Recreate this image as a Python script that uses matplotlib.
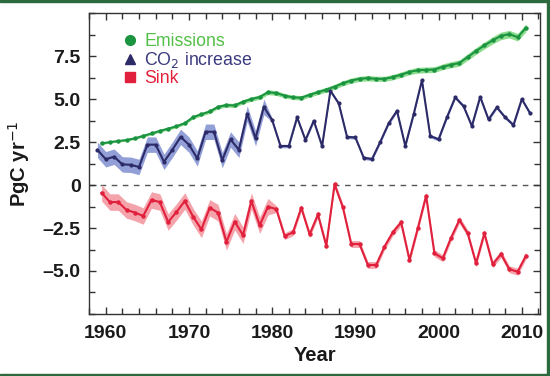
import numpy as np
import matplotlib
matplotlib.use("Agg")
import matplotlib.pyplot as plt
from matplotlib.lines import Line2D
from matplotlib.patches import Rectangle
from matplotlib.ticker import MultipleLocator, FixedLocator, FixedFormatter

plt.rcParams['font.family'] = ['Liberation Sans', 'DejaVu Sans']

# ---------------- data ----------------
years_co2 = list(range(1959, 2012))
years_es = list(range(1959, 2011))

emissions = [2.42, 2.50, 2.56, 2.62, 2.72, 2.86, 3.00, 3.15, 3.28, 3.42,
             3.60, 3.95, 4.12, 4.28, 4.55, 4.65, 4.63, 4.85, 5.00, 5.12,
             5.40, 5.35, 5.20, 5.10, 5.08, 5.25, 5.40, 5.55, 5.72, 5.92,
             6.08, 6.18, 6.22, 6.18, 6.18, 6.28, 6.42, 6.58, 6.68, 6.70,
             6.72, 6.88, 7.00, 7.10, 7.45, 7.80, 8.12, 8.42, 8.68, 8.78,
             8.60, 9.15]
emissions_unc = [0.06, 0.06, 0.06, 0.07, 0.07, 0.07, 0.08, 0.08, 0.08, 0.09,
                 0.09, 0.10, 0.10, 0.11, 0.11, 0.12, 0.12, 0.12, 0.13, 0.13,
                 0.14, 0.14, 0.13, 0.13, 0.13, 0.13, 0.14, 0.14, 0.14, 0.15,
                 0.15, 0.15, 0.16, 0.15, 0.15, 0.16, 0.16, 0.16, 0.17, 0.17,
                 0.17, 0.17, 0.18, 0.18, 0.19, 0.20, 0.20, 0.21, 0.22, 0.22,
                 0.22, 0.23]

co2_increase = [2.05, 1.50, 1.65, 1.20, 1.18, 1.05, 2.35, 2.35, 1.35, 2.05,
                2.80, 2.35, 1.55, 3.10, 3.10, 1.45, 2.65, 2.05, 4.15, 2.72,
                4.55, 3.78, 2.27, 2.27, 3.94, 2.62, 3.74, 2.27, 5.48, 4.75,
                2.80, 2.77, 1.59, 1.51, 2.52, 3.59, 4.32, 2.27, 4.11, 6.10,
                2.85, 2.66, 3.94, 5.10, 4.59, 3.43, 5.13, 3.82, 4.52, 3.94,
                3.49, 5.00, 4.17]
co2_unc = [0.45] * 21 + [0.10] * 32

sink = [-0.45, -0.99, -0.99, -1.45, -1.60, -1.80, -0.87, -0.99, -2.15, -1.57,
        -0.93, -1.84, -2.58, -1.32, -1.61, -3.31, -2.13, -2.92, -0.93, -2.34,
        -1.26, -1.40, -2.97, -2.75, -1.32, -2.87, -1.71, -3.53, 0.04, -1.30,
        -3.43, -3.43, -4.65, -4.65, -3.58, -2.75, -2.17, -4.36, -2.52, -0.62,
        -3.97, -4.26, -3.06, -2.03, -2.81, -4.55, -2.81, -4.61, -4.01, -4.90,
        -5.04, -4.11]
sink_unc = [0.48] * 21 + [0.20] * 31

ytick_vals = [-5.0, -2.5, 0.0, 2.5, 5.0, 7.5]
ytick_labels = ['\u20135.0', '\u20132.5', '0', '2.5', '5.0', '7.5']
xtick_vals = [1960, 1970, 1980, 1990, 2000, 2010]
labels = ['Emissions', 'CO$_2$ increase', 'Sink']

# ---------------- style ----------------
c_em_line, c_em_band, c_em_text = '#1a9440', '#8fdc8f', '#52c046'
c_co_line, c_co_band, c_co_text = '#2c2b68', '#93a0d8', '#3a3a7e'
c_si_line, c_si_band, c_si_text = '#e0203c', '#f5a3ab', '#e4203c'
txt = '#1a1a1a'

fig = plt.figure(figsize=(5.5, 3.76), dpi=100)
ax = fig.add_axes([0.162, 0.165, 0.820, 0.800])

x_es = np.array(years_es) + 0.5
x_co = np.array(years_co2)

em = np.array(emissions); emu = np.array(emissions_unc)
co = np.array(co2_increase); cou = np.array(co2_unc)
si = np.array(sink); siu = np.array(sink_unc)

ax.axhline(0, color='#555555', lw=1.0, ls=(0, (4, 4)), zorder=1)

ax.fill_between(x_es, em - emu, em + emu, color=c_em_band, lw=0, zorder=2)
ax.fill_between(x_co, co - cou, co + cou, color=c_co_band, lw=0, zorder=2)
ax.fill_between(x_es, si - siu, si + siu, color=c_si_band, lw=0, zorder=2)

ax.plot(x_es, em, color=c_em_line, lw=1.5, marker='o', ms=2.2, zorder=3)
ax.plot(x_co, co, color=c_co_line, lw=1.5, marker='o', ms=2.0, zorder=3)
ax.plot(x_es, si, color=c_si_line, lw=1.5, marker='o', ms=2.2, zorder=3)

ax.set_xlim(1958, 2012.2)
ax.set_ylim(-7.5, 10)

ax.xaxis.set_major_locator(FixedLocator(xtick_vals))
ax.xaxis.set_minor_locator(MultipleLocator(2))
ax.yaxis.set_major_locator(FixedLocator(ytick_vals))
ax.yaxis.set_major_formatter(FixedFormatter(ytick_labels))
ax.yaxis.set_minor_locator(MultipleLocator(1.25))

ax.tick_params(which='both', direction='in', top=True, right=True,
               labelsize=14, colors='#333333', labelcolor=txt, width=1.0)
ax.tick_params(which='major', length=5)
ax.tick_params(axis='x', which='major', pad=8)
ax.tick_params(axis='y', which='major', pad=6)
ax.tick_params(which='minor', length=4)
for lab in ax.get_xticklabels() + ax.get_yticklabels():
    lab.set_fontweight('bold')
for s in ax.spines.values():
    s.set_color('#333333')
    s.set_linewidth(1.0)

ax.set_xlabel('Year', fontsize=14.5, color=txt, fontweight='bold', labelpad=3)
ax.set_ylabel('PgC yr$^{-1}$', fontsize=14.5, color=txt, fontweight='bold', labelpad=8)

handles = [
    Line2D([], [], ls='none', marker='o', ms=7, color=c_em_line),
    Line2D([], [], ls='none', marker='^', ms=7, color=c_co_line),
    Line2D([], [], ls='none', marker='s', ms=7, color=c_si_line),
]
leg = ax.legend(handles, labels, loc='upper left', bbox_to_anchor=(0.055, 0.958),
                frameon=False, fontsize=12.8, handlelength=1.0, handletextpad=0.3,
                labelspacing=0.0, borderaxespad=0)
for t, c in zip(leg.get_texts(), [c_em_text, c_co_text, c_si_text]):
    t.set_color(c)

# green frame around image (top, right, bottom)
border = '#2a6a3c'
fig.patches.append(Rectangle((0, 0.994), 1, 0.006, transform=fig.transFigure,
                             color=border, zorder=10))
fig.patches.append(Rectangle((0, 0.0), 1, 0.006, transform=fig.transFigure,
                             color=border, zorder=10))
fig.patches.append(Rectangle((0.994, 0), 0.006, 1, transform=fig.transFigure,
                             color=border, zorder=10))

fig.savefig('out.png', dpi=100)
